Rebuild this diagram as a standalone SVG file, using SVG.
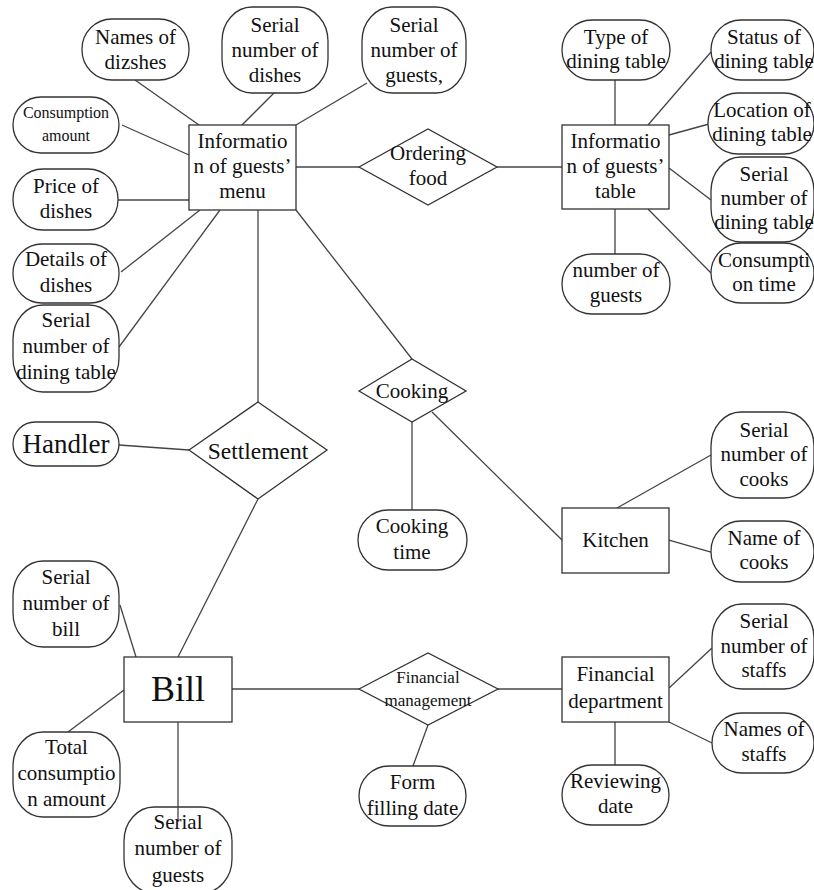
<svg xmlns="http://www.w3.org/2000/svg" width="814" height="890" viewBox="0 0 814 890">
  <style>
    .ent { fill: #fff; stroke: #333; stroke-width: 1.3; }
    .attr { fill: #fff; stroke: #333; stroke-width: 1.3; }
    .rel { fill: #fff; stroke: #333; stroke-width: 1.3; }
    .edge { stroke: #444; stroke-width: 1.3; fill: none; }
    text { font-family: 'Liberation Serif', Tinos, 'DejaVu Serif', serif; font-size: 21px; fill: #111; text-anchor: middle; }
    .sm { font-size: 16px; }
    .fm { font-size: 17px; }
  </style>
  <rect width="814" height="890" fill="#fff"/>

  <!-- connectors -->
  <g id="connectors">
    <line class="edge" x1="199" y1="125" x2="135" y2="80"/>
    <line class="edge" x1="242" y1="125" x2="274" y2="93"/>
    <line class="edge" x1="296" y1="125" x2="367" y2="83"/>
    <line class="edge" x1="122" y1="125" x2="189" y2="155"/>
    <line class="edge" x1="118" y1="200" x2="189" y2="200"/>
    <line class="edge" x1="296" y1="167" x2="359" y2="167"/>
    <line class="edge" x1="497" y1="167" x2="562" y2="167"/>
    <line class="edge" x1="615" y1="80" x2="615" y2="125"/>
    <line class="edge" x1="648" y1="125" x2="711" y2="52"/>
    <line class="edge" x1="669" y1="135" x2="709" y2="124"/>
    <line class="edge" x1="669" y1="168" x2="711" y2="200"/>
    <line class="edge" x1="648" y1="209" x2="711" y2="273"/>
    <line class="edge" x1="615" y1="209" x2="615" y2="254"/>
    <line class="edge" x1="200" y1="210" x2="121" y2="272"/>
    <line class="edge" x1="220" y1="210" x2="119" y2="347"/>
    <line class="edge" x1="258" y1="210" x2="258" y2="402"/>
    <line class="edge" x1="296" y1="210" x2="412" y2="359"/>
    <line class="edge" x1="119" y1="445" x2="189" y2="450"/>
    <line class="edge" x1="412" y1="422" x2="412" y2="510"/>
    <line class="edge" x1="432" y1="412" x2="562" y2="540"/>
    <line class="edge" x1="617" y1="508" x2="711" y2="455"/>
    <line class="edge" x1="669" y1="540" x2="711" y2="552"/>
    <line class="edge" x1="258" y1="499" x2="178" y2="657"/>
    <line class="edge" x1="120" y1="605" x2="136" y2="657"/>
    <line class="edge" x1="124" y1="690" x2="68" y2="732"/>
    <line class="edge" x1="232" y1="689" x2="359" y2="689"/>
    <line class="edge" x1="428" y1="725" x2="413" y2="766"/>
    <line class="edge" x1="498" y1="689" x2="562" y2="689"/>
    <line class="edge" x1="669" y1="688" x2="712" y2="648"/>
    <line class="edge" x1="669" y1="722" x2="712" y2="743"/>
    <line class="edge" x1="615" y1="722" x2="615" y2="765"/>
  </g>

  <!-- guests' menu entity and its attributes -->
  <g id="menu">
    <rect class="ent" x="189" y="125" width="107" height="85"/>
    <text x="242.5" y="148">Informatio</text>
    <text x="242.5" y="173">n of guests’</text>
    <text x="242.5" y="198">menu</text>
  </g>
  <g id="names-of-dishes">
    <rect class="attr" x="82" y="19" width="107" height="61" rx="30" ry="30"/>
    <text x="135.5" y="44">Names of</text>
    <text x="135.5" y="69">dizshes</text>
  </g>
  <g id="serial-dishes">
    <rect class="attr" x="222" y="7" width="106" height="86" rx="30" ry="34"/>
    <text x="275" y="32">Serial</text>
    <text x="275" y="57">number of</text>
    <text x="275" y="82">dishes</text>
  </g>
  <g id="serial-guests-menu">
    <rect class="attr" x="362" y="7" width="104" height="86" rx="30" ry="34"/>
    <text x="414" y="32">Serial</text>
    <text x="414" y="57">number of</text>
    <text x="414" y="82">guests,</text>
  </g>
  <g id="consumption-amount">
    <rect class="attr" x="13" y="97" width="106" height="56" rx="28" ry="28"/>
    <text class="sm" x="66" y="118">Consumption</text>
    <text class="sm" x="66" y="141">amount</text>
  </g>
  <g id="price-of-dishes">
    <rect class="attr" x="13" y="169" width="105" height="61" rx="30" ry="30"/>
    <text x="66" y="193">Price of</text>
    <text x="66" y="218">dishes</text>
  </g>
  <g id="details-of-dishes">
    <rect class="attr" x="13" y="244" width="106" height="59" rx="29" ry="29"/>
    <text x="66" y="266">Details of</text>
    <text x="66" y="292">dishes</text>
  </g>
  <g id="serial-dining-table-menu">
    <rect class="attr" x="13" y="305" width="106" height="87" rx="30" ry="34"/>
    <text x="66" y="327">Serial</text>
    <text x="66" y="353">number of</text>
    <text x="66" y="379">dining table</text>
  </g>

  <!-- ordering relationship -->
  <g id="ordering-food">
    <polygon class="rel" points="359,167 428,129 497,167 428,205"/>
    <text x="428" y="160">Ordering</text>
    <text x="428" y="185">food</text>
  </g>

  <!-- guests' table entity and its attributes -->
  <g id="table">
    <rect class="ent" x="562" y="125" width="107" height="84"/>
    <text x="615.5" y="148">Informatio</text>
    <text x="615.5" y="173">n of guests’</text>
    <text x="615.5" y="198">table</text>
  </g>
  <g id="type-of-table">
    <rect class="attr" x="562" y="20" width="108" height="60" rx="30" ry="30"/>
    <text x="616" y="44">Type of</text>
    <text x="616" y="68">dining table</text>
  </g>
  <g id="status-of-table">
    <rect class="attr" x="711" y="20" width="103" height="60" rx="30" ry="30"/>
    <text x="764" y="44">Status of</text>
    <text x="764" y="68">dining table</text>
  </g>
  <g id="location-of-table">
    <rect class="attr" x="708" y="93" width="106" height="61" rx="30" ry="30"/>
    <text x="762" y="117">Location of</text>
    <text x="762" y="141">dining table</text>
  </g>
  <g id="serial-dining-table">
    <rect class="attr" x="711" y="157" width="103" height="85" rx="30" ry="34"/>
    <text x="764" y="181">Serial</text>
    <text x="764" y="205">number of</text>
    <text x="764" y="229">dining table</text>
  </g>
  <g id="consumption-time">
    <rect class="attr" x="711" y="243" width="103" height="60" rx="30" ry="30"/>
    <text x="764" y="267">Consumpti</text>
    <text x="764" y="291">on time</text>
  </g>
  <g id="number-of-guests">
    <rect class="attr" x="562" y="254" width="108" height="60" rx="30" ry="30"/>
    <text x="616" y="277">number of</text>
    <text x="616" y="302">guests</text>
  </g>

  <!-- settlement relationship -->
  <g id="handler">
    <rect class="attr" x="13" y="422" width="106" height="44" rx="22" ry="22"/>
    <text x="66" y="453" style="font-size:27px">Handler</text>
  </g>
  <g id="settlement">
    <polygon class="rel" points="189,450 258,402 327,450 258,499"/>
    <text x="258" y="459" style="font-size:23.5px">Settlement</text>
  </g>

  <!-- cooking relationship and kitchen -->
  <g id="cooking">
    <polygon class="rel" points="359,391 412,359 466,391 412,422"/>
    <text x="412" y="398">Cooking</text>
  </g>
  <g id="cooking-time">
    <rect class="attr" x="358" y="510" width="109" height="60" rx="30" ry="30"/>
    <text x="412" y="533">Cooking</text>
    <text x="412" y="559">time</text>
  </g>
  <g id="kitchen">
    <rect class="ent" x="562" y="508" width="107" height="65"/>
    <text x="615.5" y="547">Kitchen</text>
  </g>
  <g id="serial-cooks">
    <rect class="attr" x="711" y="412" width="103" height="86" rx="30" ry="34"/>
    <text x="764" y="437">Serial</text>
    <text x="764" y="461">number of</text>
    <text x="764" y="486">cooks</text>
  </g>
  <g id="name-of-cooks">
    <rect class="attr" x="711" y="521" width="103" height="61" rx="30" ry="30"/>
    <text x="764" y="545">Name of</text>
    <text x="764" y="569">cooks</text>
  </g>

  <!-- bill entity and its attributes -->
  <g id="bill">
    <rect class="ent" x="124" y="657" width="108" height="65"/>
    <text x="178" y="701" style="font-size:36px">Bill</text>
  </g>
  <g id="serial-bill">
    <rect class="attr" x="13" y="561" width="106" height="86" rx="30" ry="34"/>
    <text x="66" y="584">Serial</text>
    <text x="66" y="610">number of</text>
    <text x="66" y="636">bill</text>
  </g>
  <g id="total-consumption">
    <rect class="attr" x="13" y="732" width="107" height="85" rx="30" ry="34"/>
    <text x="66.5" y="754">Total</text>
    <text x="66.5" y="780">consumptio</text>
    <text x="66.5" y="806">n amount</text>
  </g>
  <g id="serial-guests-bill">
    <rect class="attr" x="124" y="807" width="108" height="86" rx="30" ry="34"/>
    <line class="edge" x1="178" y1="722" x2="178" y2="822"/>
    <text x="178" y="829">Serial</text>
    <text x="178" y="855">number of</text>
    <text x="178" y="882">guests</text>
  </g>

  <!-- financial management relationship and department -->
  <g id="financial-management">
    <polygon class="rel" points="359,689 428,653 498,689 428,725"/>
    <text class="fm" x="428" y="683">Financial</text>
    <text class="fm" x="428" y="706">management</text>
  </g>
  <g id="form-filling-date">
    <rect class="attr" x="359" y="766" width="107" height="60" rx="30" ry="30"/>
    <text x="412.5" y="789">Form</text>
    <text x="412.5" y="815">filling date</text>
  </g>
  <g id="financial-department">
    <rect class="ent" x="562" y="657" width="107" height="65"/>
    <text x="615.5" y="681">Financial</text>
    <text x="615.5" y="708">department</text>
  </g>
  <g id="serial-staffs">
    <rect class="attr" x="712" y="604" width="102" height="85" rx="30" ry="34"/>
    <text x="764" y="628">Serial</text>
    <text x="764" y="653">number of</text>
    <text x="764" y="677">staffs</text>
  </g>
  <g id="names-of-staffs">
    <rect class="attr" x="712" y="713" width="102" height="60" rx="30" ry="30"/>
    <text x="764" y="736">Names of</text>
    <text x="764" y="761">staffs</text>
  </g>
  <g id="reviewing-date">
    <rect class="attr" x="562" y="765" width="107" height="60" rx="30" ry="30"/>
    <text x="615.5" y="788">Reviewing</text>
    <text x="615.5" y="813">date</text>
  </g>
</svg>
